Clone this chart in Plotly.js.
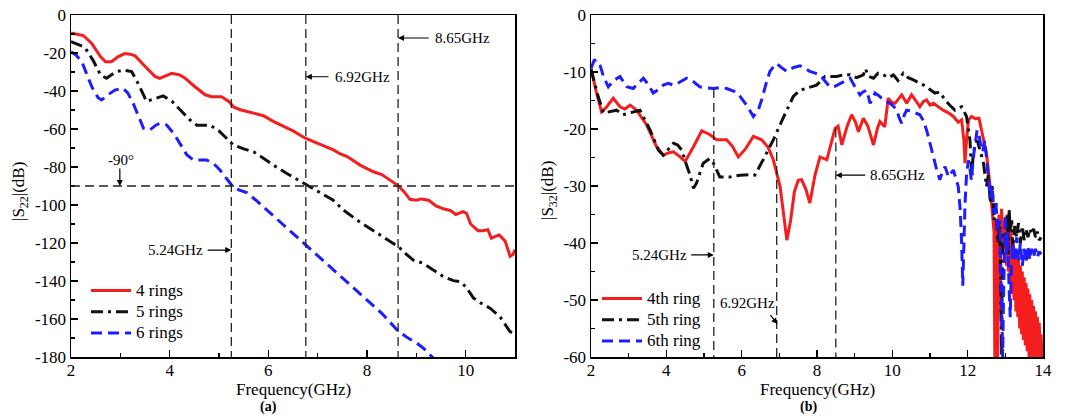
<!DOCTYPE html>
<html>
<head>
<meta charset="utf-8">
<script src="https://cdn.plot.ly/plotly-3.0.1.min.js"></script>
<style>
  html, body { margin: 0; padding: 0; background: #fff; }
  #chart { width: 1077px; height: 418px; }
</style>
</head>
<body>
<div id="chart"></div>
<script>
// ---------- (a) |S22| of the ring filters ----------
const freqA4 = [2.0, 2.12, 2.25, 2.42, 2.6, 2.7, 2.82, 2.95, 3.09, 3.2, 3.3, 3.5, 3.7, 3.8, 3.95, 4.04, 4.2, 4.3, 4.5, 4.72, 4.85, 5.05, 5.2, 5.3, 5.45, 5.6, 5.75, 5.9, 6.1, 6.3, 6.5, 6.76, 7.0, 7.32, 7.45, 7.6, 7.86, 8.0, 8.13, 8.3, 8.5, 8.63, 8.75, 8.87, 9.0, 9.1, 9.25, 9.4, 9.55, 9.7, 9.8, 9.95, 10.02, 10.1, 10.25, 10.35, 10.45, 10.52, 10.6, 10.68, 10.8, 10.9, 10.96, 11.0];
const s22Rings4 = [-9.5, -10, -10.8, -15, -22, -24.6, -24.6, -22, -20.3, -20.6, -21.5, -27, -32.3, -33.3, -31.5, -30.7, -31.5, -33, -37.5, -42, -43, -43, -45.5, -48.5, -50, -51, -51.7, -53, -56, -58.5, -61, -65, -67.5, -71, -73, -74.5, -79, -81, -82.5, -84, -87.5, -89.8, -93, -97, -97.5, -96.8, -97.5, -100.5, -102, -103, -105, -103.5, -104.5, -110, -113.5, -113.5, -113, -117.5, -116.5, -115.8, -119, -127, -126, -123.5];

const freqA5 = [2.0, 2.15, 2.28, 2.45, 2.6, 2.72, 2.9, 3.06, 3.23, 3.38, 3.53, 3.7, 3.87, 4.05, 4.21, 4.4, 4.55, 4.82, 5.0, 5.15, 5.29, 5.5, 5.7, 5.9, 6.1, 6.35, 6.55, 6.76, 7.0, 7.31, 7.52, 7.8, 8.1, 8.4, 8.64, 8.8, 8.94, 9.14, 9.35, 9.55, 9.75, 9.89, 10.0, 10.16, 10.3, 10.5, 10.7, 10.9, 11.0];
const s22Rings5 = [-14, -15.5, -17, -24, -31.6, -33.3, -30, -29, -29.8, -37, -45.5, -44, -42.6, -45.5, -50, -55, -58, -58, -61, -65, -68.4, -70.5, -72, -75.4, -79, -83, -86, -89.5, -93, -97.4, -102.6, -108, -113, -118, -122, -126, -129, -130.7, -134.5, -137.7, -139.8, -140.4, -143, -149, -151.5, -154.4, -159, -166.7, -167.5];

const freqA6 = [2.0, 2.1, 2.22, 2.32, 2.42, 2.55, 2.62, 2.75, 2.89, 3.06, 3.15, 3.26, 3.37, 3.47, 3.6, 3.72, 3.8, 3.94, 4.1, 4.22, 4.35, 4.48, 4.75, 4.9, 5.02, 5.15, 5.27, 5.4, 5.56, 5.75, 5.9, 6.2, 6.5, 6.76, 7.1, 7.4, 7.7, 8.0, 8.3, 8.63, 8.8, 9.0, 9.15, 9.36];
const s22Rings6 = [-19.3, -21, -24.6, -31, -37.7, -43.5, -44.7, -42, -39.5, -38.6, -41, -46.5, -53, -59.6, -60.5, -58, -57, -57.9, -63, -68.5, -73.7, -76.3, -76.3, -78.5, -81.6, -86, -90, -92, -93.5, -97.5, -101, -108, -115, -120.7, -128.5, -135.5, -142.5, -149.5, -157, -166.3, -169.5, -172.5, -175.5, -181];

// reference markers of panel (a): vertical lines (GHz) and the -90 level (dB)
const markFreqA = [5.25, 6.76, 8.63];
const markLevelA = -90;

// ---------- (b) |S32| per ring ----------
const freqB4 = [2.0, 2.05, 2.15, 2.28, 2.42, 2.59, 2.77, 2.9, 3.04, 3.21, 3.48, 3.74, 3.92, 4.05, 4.19, 4.35, 4.5, 4.72, 4.94, 5.16, 5.34, 5.6, 5.75, 5.91, 6.1, 6.31, 6.53, 6.7, 6.84, 7.02, 7.12, 7.2, 7.3, 7.4, 7.5, 7.59, 7.7, 7.81, 7.95, 8.08, 8.26, 8.4, 8.48, 8.56, 8.66, 8.8, 8.92, 9.02, 9.1, 9.23, 9.35, 9.5, 9.6, 9.67, 9.8, 9.89, 9.98, 10.07, 10.15, 10.25, 10.38, 10.51, 10.62, 10.73, 10.82, 10.91, 11.0, 11.09, 11.2, 11.35, 11.5, 11.62, 11.75, 11.84, 11.9, 11.93, 11.97, 12.02, 12.1, 12.2, 12.3, 12.4, 12.5, 12.58, 12.65, 12.7, 12.72, 12.74, 12.76, 12.78, 12.8, 12.83, 12.86, 12.9, 12.95, 13.0, 13.03, 13.05, 13.08, 13.1, 13.13, 13.15, 13.18, 13.2, 13.23, 13.25, 13.28, 13.3, 13.33, 13.35, 13.38, 13.4, 13.43, 13.45, 13.48, 13.5, 13.53, 13.55, 13.58, 13.6, 13.63, 13.65, 13.68, 13.7, 13.73, 13.75, 13.78, 13.8, 13.83, 13.85, 13.88, 13.9, 13.93, 13.95, 13.97];
const s32Ring4 = [-9.5, -11, -13.7, -17, -16.1, -14.6, -16.1, -16.5, -15.8, -16.7, -19.3, -23.1, -24.6, -24.2, -24, -24.8, -25.7, -23.1, -20.3, -21, -21.9, -21.9, -23, -24.9, -23.5, -21.3, -21.9, -23.2, -25.4, -30.1, -35, -39.5, -36, -31, -29, -28.9, -30.5, -33, -28, -24.9, -25.4, -22, -19.9, -19.5, -22.8, -19.5, -17.5, -18.8, -20.5, -18.1, -19.5, -22.8, -20, -18.7, -19.6, -14.6, -15.3, -15.5, -14.8, -14, -15.5, -14, -15, -16.1, -15.2, -14.9, -15.8, -15.5, -16, -16.7, -17.2, -17.8, -18.8, -18.4, -22, -26, -22, -18.5, -17.8, -18.2, -18.1, -21, -24.3, -29, -34, -38, -60, -36, -60, -37, -60, -35, -52, -34, -41, -36, -44, -35, -45, -37, -47, -38, -49, -40, -50, -41, -52, -42, -53, -43, -55, -44, -56, -45, -57, -46, -58, -47, -59, -48, -60, -49, -60, -50, -60, -51, -60, -52, -60, -53, -60, -54, -60, -56, -60];

const freqB5 = [2.0, 2.1, 2.19, 2.33, 2.5, 2.68, 2.85, 3.04, 3.3, 3.57, 3.79, 3.92, 4.05, 4.19, 4.3, 4.41, 4.52, 4.63, 4.72, 4.8, 4.98, 5.15, 5.25, 5.42, 5.69, 5.96, 6.2, 6.35, 6.57, 6.84, 7.1, 7.37, 7.55, 7.72, 7.99, 8.21, 8.52, 8.7, 8.88, 9.05, 9.23, 9.28, 9.38, 9.5, 9.62, 9.76, 9.9, 10.03, 10.15, 10.29, 10.42, 10.56, 10.7, 10.83, 10.98, 11.13, 11.26, 11.4, 11.52, 11.66, 11.84, 11.97, 12.06, 12.11, 12.15, 12.19, 12.25, 12.33, 12.42, 12.5, 12.55, 12.6, 12.65, 12.7, 12.75, 12.8, 12.85, 12.88, 12.9, 12.92, 12.95, 13.0, 13.05, 13.08, 13.1, 13.13, 13.17, 13.2, 13.25, 13.3, 13.35, 13.4, 13.45, 13.5, 13.55, 13.6, 13.65, 13.7, 13.75, 13.8, 13.85, 13.9, 13.95];
const s32Ring5 = [-9.5, -12, -14.3, -17.2, -17, -16.7, -17.5, -17.2, -16.7, -20.2, -23.7, -24.6, -23.5, -22.5, -22.8, -23.7, -26, -28.1, -30.4, -29.5, -26, -25.2, -26, -28.4, -28.4, -28.1, -28, -28.1, -25.4, -21.9, -18.1, -14.3, -13.2, -12.9, -12.3, -10.8, -10.8, -10.5, -10.5, -11, -10.5, -9.4, -10.8, -11.1, -10.2, -10.5, -11, -10.5, -11.5, -10.2, -11, -11.4, -11.8, -12.3, -13, -13.7, -13.5, -14.9, -15.8, -16.7, -16.1, -17.8, -21.9, -28.4, -24, -23.1, -22, -23.7, -26, -30.1, -28, -33, -30, -36, -33, -40, -37, -48, -60, -45, -38, -40, -35, -42, -34, -38, -36, -41, -37, -39, -36.5, -40, -37, -39.5, -37.5, -39, -37.5, -38.5, -37.5, -39, -38, -39.5, -39];

const freqB6 = [2.0, 2.08, 2.15, 2.25, 2.33, 2.46, 2.6, 2.77, 2.95, 3.12, 3.25, 3.39, 3.52, 3.65, 3.8, 3.92, 4.05, 4.19, 4.35, 4.54, 4.7, 4.89, 5.05, 5.25, 5.45, 5.6, 5.8, 5.96, 6.15, 6.31, 6.45, 6.53, 6.65, 6.75, 6.85, 6.93, 7.05, 7.2, 7.38, 7.55, 7.7, 7.81, 7.95, 8.08, 8.2, 8.34, 8.48, 8.61, 8.75, 8.88, 9.0, 9.14, 9.22, 9.32, 9.41, 9.48, 9.54, 9.65, 9.76, 9.85, 9.94, 10.03, 10.12, 10.18, 10.25, 10.32, 10.38, 10.47, 10.56, 10.65, 10.73, 10.82, 10.91, 10.98, 11.04, 11.1, 11.18, 11.26, 11.33, 11.4, 11.45, 11.49, 11.55, 11.62, 11.68, 11.75, 11.8, 11.84, 11.87, 11.9, 11.93, 11.97, 12.02, 12.06, 12.1, 12.15, 12.2, 12.25, 12.3, 12.35, 12.4, 12.45, 12.5, 12.55, 12.6, 12.65, 12.7, 12.75, 12.8, 12.85, 12.88, 12.91, 12.93, 12.95, 12.98, 13.0, 13.03, 13.06, 13.1, 13.13, 13.16, 13.2, 13.25, 13.3, 13.35, 13.4, 13.45, 13.5, 13.55, 13.6, 13.65, 13.7, 13.75, 13.8, 13.85, 13.9, 13.95];
const s32Ring6 = [-9.4, -8, -7.9, -9, -10.8, -12.6, -11.5, -10.8, -12.6, -12.9, -12, -11.1, -12.2, -13.7, -13, -12.3, -12, -12.3, -11.8, -11.1, -11.6, -12.6, -12.8, -12.9, -12.7, -12.9, -13.4, -14.3, -16, -17.8, -16.5, -14.9, -12, -9.9, -9, -8.5, -9.2, -9.9, -9.2, -8.9, -9.4, -9.9, -10.2, -10.5, -11.5, -12.6, -12.5, -12, -11.5, -11.1, -12.5, -14, -13.5, -13.2, -15.5, -14.5, -13.7, -14.2, -14.9, -15.2, -15.5, -16, -16.7, -18, -19, -17.5, -16.7, -16.8, -17, -17.2, -17.5, -18.5, -20.2, -22, -23.7, -25.5, -27.2, -28.9, -27.5, -26.6, -27.5, -28.4, -27.8, -27.2, -28.5, -30.1, -34, -40, -47.5, -40, -33, -28, -25.5, -27, -29, -25, -22, -20.2, -21, -23, -24, -22, -25, -28, -32, -30, -35, -33, -38, -36, -45, -55, -60, -50, -40, -35, -42, -38, -48, -53, -44, -40, -43, -39, -43, -40, -44, -41, -43.5, -40.5, -43, -41, -42.5, -41, -42.5, -41.5, -42];

// reference markers of panel (b): vertical lines and the level each one starts from
const markFreqB = [5.26, 6.93, 8.5];
const markTopB = [-13, -21.6, -19.9];

// tick values and their printed labels (plain hyphen minus, as typeset)
const ticksAx = [2, 4, 6, 8, 10];
const ticksAy = [0, -20, -40, -60, -80, -100, -120, -140, -160, -180];
const ticksBx = [2, 4, 6, 8, 10, 12, 14];
const ticksBy = [0, -10, -20, -30, -40, -50, -60];
const label = v => (v < 0 ? '-' + Math.abs(v) : String(v));

const SERIF = 'Liberation Serif, Times New Roman, serif';
const RED = '#f41e1e', BLACK = '#111111', BLUE = '#1d1dff';
const lineW = 3;
const DASHDOT = '12px,5px,3px,5px', DASH = '11px,6px';
// legend rows are laid out for a 14px font while the entry text is set at 17px
const entry = s => '<span style="font-size:17px">' + s + '</span>';

const traces = [
  { x: freqA4, y: s22Rings4, name: entry('4 rings'), mode: 'lines', line: { color: RED, width: lineW }, xaxis: 'x', yaxis: 'y', legend: 'legend' },
  { x: freqA5, y: s22Rings5, name: entry('5 rings'), mode: 'lines', line: { color: BLACK, width: lineW, dash: DASHDOT }, xaxis: 'x', yaxis: 'y', legend: 'legend' },
  { x: freqA6, y: s22Rings6, name: entry('6 rings'), mode: 'lines', line: { color: BLUE, width: lineW, dash: DASH }, xaxis: 'x', yaxis: 'y', legend: 'legend' },
  { x: freqB4, y: s32Ring4, name: entry('4th ring'), mode: 'lines', line: { color: RED, width: lineW }, xaxis: 'x2', yaxis: 'y2', legend: 'legend2' },
  { x: freqB5, y: s32Ring5, name: entry('5th ring'), mode: 'lines', line: { color: BLACK, width: lineW, dash: DASHDOT }, xaxis: 'x2', yaxis: 'y2', legend: 'legend2' },
  { x: freqB6, y: s32Ring6, name: entry('6th ring'), mode: 'lines', line: { color: BLUE, width: lineW, dash: DASH }, xaxis: 'x2', yaxis: 'y2', legend: 'legend2' }
];

const W = 1077, H = 418;
const px = v => v / W;          // horizontal pixel -> paper
const py = v => 1 - v / H;      // vertical pixel -> paper

function axisStyle(extra) {
  return Object.assign({
    showline: true, mirror: true, linecolor: '#000', linewidth: 1.5,
    showgrid: false, zeroline: false,
    ticks: 'inside', ticklen: 7, tickwidth: 1.2, tickcolor: '#000',
    tickfont: { family: SERIF, size: 17, color: '#000' },
    tickmode: 'array', fixedrange: true
  }, extra);
}

const refDash = { color: '#222', width: 1.3, dash: '9px,5px' };
const shapes = [];
markFreqA.forEach(f => shapes.push({ type: 'line', xref: 'x', yref: 'y', x0: f, x1: f, y0: 0, y1: -180, line: refDash }));
shapes.push({ type: 'line', xref: 'x', yref: 'y', x0: 2, x1: 11, y0: markLevelA, y1: markLevelA, line: refDash });
markFreqB.forEach((f, i) => shapes.push({ type: 'line', xref: 'x2', yref: 'y2', x0: f, x1: f, y0: markTopB[i], y1: -60, line: refDash }));

const txt = (s, xr, yr, x, y, xa, extra) => Object.assign({
  text: s, xref: xr, yref: yr, x: x, y: y, xanchor: xa || 'left', yanchor: 'middle',
  showarrow: false, font: { family: SERIF, size: 15, color: '#000' }
}, extra || {});
const arrow = (xr, yr, x0, y0, x1, y1) => ({
  text: '', xref: xr, yref: yr, axref: xr, ayref: yr, ax: x0, ay: y0, x: x1, y: y1,
  showarrow: true, arrowhead: 2, arrowsize: 1, arrowwidth: 1.2, arrowcolor: '#000', standoff: 0, startstandoff: 0
});
const big = { family: SERIF, size: 17, color: '#000' };

const annotations = [
  // panel (a)
  txt('8.65GHz', 'x', 'y', 9.34, -12.1),
  arrow('x', 'y', 9.28, -12.1, markFreqA[2], -12.1),
  txt('6.92GHz', 'x', 'y', 7.31, -32.5),
  arrow('x', 'y', 7.25, -32.5, markFreqA[1], -32.5),
  txt('-90°', 'x', 'y', 3.01, -76.3, 'center'),
  arrow('x', 'y', 2.99, -80, 2.99, markLevelA),
  txt('5.24GHz', 'x', 'y', 4.72, -123.7, 'right'),
  arrow('x', 'y', 4.74, -123.7, markFreqA[0], -123.7),
  // panel (b)
  txt('5.24GHz', 'x2', 'y2', 4.6, -42.1, 'right'),
  arrow('x2', 'y2', 4.62, -42.1, markFreqB[0], -42.1),
  txt('6.92GHz', 'x2', 'y2', 5.36, -50.6),
  arrow('x2', 'y2', 6.73, -52.4, 6.95, -54.2),
  txt('8.65GHz', 'x2', 'y2', 9.36, -28.1),
  arrow('x2', 'y2', 9.32, -28.1, markFreqB[2], -28.1),
  // axis titles and panel tags
  txt('Frequency(GHz)', 'paper', 'paper', px(293), py(389), 'center', { font: big }),
  txt('Frequency(GHz)', 'paper', 'paper', px(817), py(389), 'center', { font: big }),
  txt('|S<sub>22</sub>|(dB)', 'paper', 'paper', px(20), py(191), 'center', { textangle: -90, font: big }),
  txt('|S<sub>32</sub>|(dB)', 'paper', 'paper', px(549), py(191), 'center', { textangle: -90, font: big }),
  txt('<b>(a)</b>', 'paper', 'paper', px(268), py(407), 'center', { font: { family: SERIF, size: 14, color: '#000' } }),
  txt('<b>(b)</b>', 'paper', 'paper', px(809), py(407), 'center', { font: { family: SERIF, size: 14, color: '#000' } })
];

const legendStyle = (x, y) => ({
  x: x, y: y, xanchor: 'left', yanchor: 'top', bgcolor: 'rgba(0,0,0,0)', borderwidth: 0,
  font: { family: SERIF, size: 14, color: '#000' }, tracegroupgap: 0, itemwidth: 40
});

const layout = {
  width: W, height: H,
  margin: { l: 0, r: 0, t: 0, b: 0 },
  paper_bgcolor: '#fff', plot_bgcolor: '#fff',
  showlegend: true,
  xaxis: axisStyle({ domain: [px(71), px(515)], range: [2, 11], anchor: 'y',
    tickvals: ticksAx, ticktext: ticksAx.map(label), ticklabelstandoff: -3,
    minor: { dtick: 1, tick0: 2, ticks: 'inside', ticklen: 4, tickcolor: '#000' } }),
  yaxis: axisStyle({ domain: [py(357), py(15)], range: [-180, 0], anchor: 'x',
    tickvals: ticksAy, ticktext: ticksAy.map(label),
    minor: { dtick: 10, tick0: 0, ticks: 'inside', ticklen: 4, tickcolor: '#000' } }),
  xaxis2: axisStyle({ domain: [px(591), px(1043)], range: [2, 14], anchor: 'y2',
    tickvals: ticksBx, ticktext: ticksBx.map(label), ticklabelstandoff: -3,
    minor: { dtick: 1, tick0: 2, ticks: 'inside', ticklen: 4, tickcolor: '#000' } }),
  yaxis2: axisStyle({ domain: [py(357), py(15)], range: [-60, 0], anchor: 'x2',
    tickvals: ticksBy, ticktext: ticksBy.map(label),
    minor: { dtick: 5, tick0: 0, ticks: 'inside', ticklen: 4, tickcolor: '#000' } }),
  legend: legendStyle(px(86), py(275)),
  legend2: legendStyle(px(597), py(283)),
  shapes: shapes,
  annotations: annotations
};

Plotly.newPlot('chart', traces, layout, { displayModeBar: false, staticPlot: true });
</script>
</body>
</html>
